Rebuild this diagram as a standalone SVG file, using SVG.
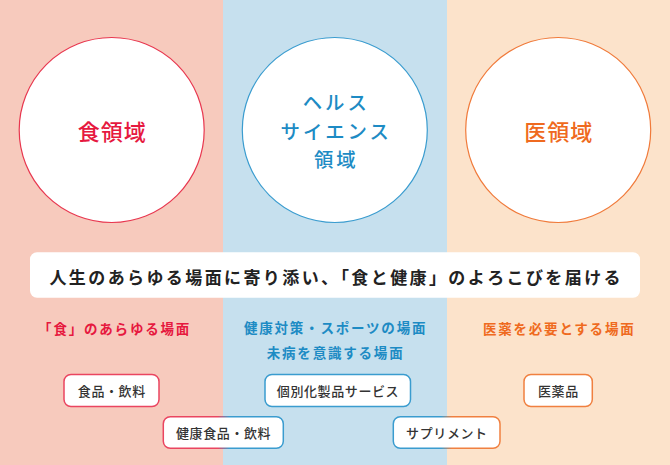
<svg xmlns="http://www.w3.org/2000/svg" width="670" height="465" viewBox="0 0 670 465">
<defs>
<linearGradient id="gRB" x1="163" y1="0" x2="284" y2="0" gradientUnits="userSpaceOnUse">
<stop offset="0" stop-color="#ea4560"/><stop offset="0.45" stop-color="#ea4560"/><stop offset="0.55" stop-color="#3a9ccf"/><stop offset="1" stop-color="#3a9ccf"/>
</linearGradient>
<linearGradient id="gBO" x1="393" y1="0" x2="500" y2="0" gradientUnits="userSpaceOnUse">
<stop offset="0" stop-color="#3a9ccf"/><stop offset="0.45" stop-color="#3a9ccf"/><stop offset="0.55" stop-color="#f08040"/><stop offset="1" stop-color="#f08040"/>
</linearGradient>
<style>
text{font-family:"Noto Sans CJK JP","Noto Sans",sans-serif;text-anchor:middle;dominant-baseline:central}
.circ{fill:#fff;stroke-width:1.2}
.ct{font-size:22px;font-weight:500;letter-spacing:1px}
.ct2{font-size:19.4px;font-weight:500;letter-spacing:3px}
.lab{font-size:13.5px;font-weight:700;letter-spacing:1.8px}
.box{fill:#fff;stroke-width:1.5}
.bt{font-size:13px;font-weight:500;fill:#333;letter-spacing:0.6px}
.red{fill:#e6193f}.blue{fill:#1d8bc4}.orange{fill:#ef6a20}
</style>
</defs>
<g id="background">
<rect x="0" y="0" width="223" height="465" fill="#f7cabd"/>
<rect x="223" y="0" width="224" height="465" fill="#c6e0ee"/>
<rect x="447" y="0" width="223" height="465" fill="#fce3cb"/>
</g>
<g id="connectors"/>
<g id="food-domain">
<circle class="circ" cx="111.7" cy="130" r="92.5" stroke="#e8374f"/>
<text class="ct red" x="112.2" y="129.5">食領域</text>
</g>
<g id="health-science-domain">
<circle class="circ" cx="334.8" cy="130" r="92.5" stroke="#3a9ccf"/>
<text class="ct2 blue" x="336.3" y="101.7">ヘルス</text>
<text class="ct2 blue" x="336.3" y="130">サイエンス</text>
<text class="ct2 blue" x="336.3" y="158.3">領域</text>
</g>
<g id="medical-domain">
<circle class="circ" cx="558.2" cy="130" r="92.5" stroke="#f07a3a"/>
<text class="ct orange" x="558.7" y="129.5">医領域</text>
</g>
<g id="banner">
<rect x="30" y="252.3" width="610" height="45.4" rx="7" fill="#fff"/>
<text x="336.2" y="276" style="font-size:17px;font-weight:700;fill:#222;letter-spacing:2.4px">人生のあらゆる場面に寄り添い、「食と健康」のよろこびを届ける</text>
</g>
<g id="labels">
<text class="lab red" x="114.6" y="327.7">「食」のあらゆる場面</text>
<text class="lab blue" x="335.6" y="326.7">健康対策・スポーツの場面</text>
<text class="lab blue" x="335.6" y="352.3">未病を意識する場面</text>
<text class="lab orange" x="559.2" y="327.7">医薬を必要とする場面</text>
</g>
<g id="box-food-drink">
<rect class="box" x="64" y="374.5" width="95" height="32" rx="7" stroke="#ea4560"/>
<text class="bt" x="111.8" y="390.5">食品・飲料</text>
</g>
<g id="box-personalized">
<rect class="box" x="265" y="374.5" width="145.5" height="32" rx="7" stroke="#3a9ccf"/>
<text class="bt" x="338" y="390.5">個別化製品サービス</text>
</g>
<g id="box-medicine">
<rect class="box" x="524" y="374.5" width="68.3" height="32" rx="7" stroke="#f08040"/>
<text class="bt" x="558.4" y="390.5">医薬品</text>
</g>
<g id="box-health-food">
<rect class="box" x="163.3" y="416.7" width="120" height="31.6" rx="7" stroke="url(#gRB)"/>
<text class="bt" x="223.6" y="432.5">健康食品・飲料</text>
</g>
<g id="box-supplement">
<rect class="box" x="393.3" y="416.7" width="106.7" height="31.6" rx="7" stroke="url(#gBO)"/>
<text class="bt" x="446.9" y="432.5">サプリメント</text>
</g>
</svg>
